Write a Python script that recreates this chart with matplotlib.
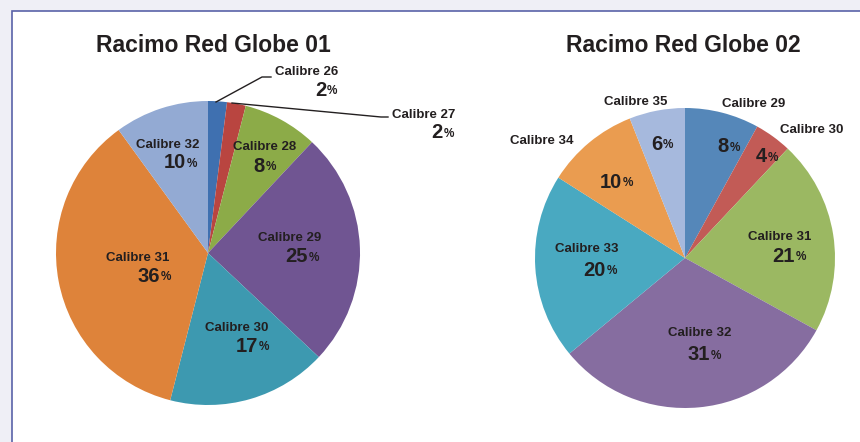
import matplotlib.pyplot as plt
from matplotlib.patches import Rectangle

plt.rcParams['font.family'] = ['Liberation Sans', 'DejaVu Sans']

# data
titles = ['Racimo Red Globe 01', 'Racimo Red Globe 02']

cal1 = ['Calibre 26', 'Calibre 27', 'Calibre 28', 'Calibre 29', 'Calibre 30', 'Calibre 31', 'Calibre 32']
pct1 = [2, 2, 8, 25, 17, 36, 10]
col1 = ['#3F70B0', '#B94540', '#8CAB48', '#705592', '#3D99B0', '#DE833A', '#93AAD3']

cal2 = ['Calibre 29', 'Calibre 30', 'Calibre 31', 'Calibre 32', 'Calibre 33', 'Calibre 34', 'Calibre 35']
pct2 = [8, 4, 21, 31, 20, 10, 6]
col2 = ['#5587B9', '#C25B56', '#9BB862', '#866DA0', '#49A9C1', '#EA9C50', '#A6B9DD']

W, H = 860, 442
TXT = '#231F20'

fig = plt.figure(figsize=(W / 100, H / 100), dpi=100)
fig.patch.set_facecolor('#EFEFF6')
ax = fig.add_axes([0, 0, 1, 1])


def Y(y):  # pixel row -> axes y
    return H - y


# white box with border
ax.add_patch(Rectangle((12, Y(H + 5)), W, H - 6, facecolor='white', edgecolor='#5A62A8', lw=1.2, zorder=0))


def draw_pie(vals, colors, cx, cy, r):
    ax.pie(vals, colors=colors, startangle=90, counterclock=False,
           center=(cx, Y(cy)), radius=r, wedgeprops=dict(linewidth=0))


def label(name, val, x, y, xp, yp, big=14.5):
    # name centered at (x, y); number right aligned at xp, % after it
    if name:
        ax.text(x, Y(y), name, ha='center', va='center', fontsize=9.5, fontweight='bold', color=TXT)
    ax.text(xp, Y(yp), str(val), ha='right', va='center', fontsize=big, fontweight='bold', color=TXT)
    ax.text(xp + 0.5, Y(yp + 1), '%', ha='left', va='center', fontsize=8.5, fontweight='bold', color=TXT)


draw_pie(pct1, col1, 208, 253, 152)
draw_pie(pct2, col2, 685, 258, 150)

ax.text(213, Y(46), titles[0], ha='center', va='center', fontsize=16.5, fontweight='bold', color=TXT)
ax.text(683, Y(46), titles[1], ha='center', va='center', fontsize=16.5, fontweight='bold', color=TXT)

# pie 1 labels
pos1 = [(307, 72, 326, 90), (424, 115, 443, 133), (265, 147, 265, 166), (290, 238, 308, 257),
        (237, 328, 258, 346), (138, 258, 160, 276), (168, 145, 186, 163)]
for n, v, p in zip(cal1, pct1, pos1):
    label(n, v, *p)

# leader lines for the small slices
ax.plot([216, 262, 271], [Y(102), Y(77), Y(77)], color=TXT, lw=1)
ax.plot([232, 381, 388], [Y(103), Y(117), Y(117)], color=TXT, lw=1)

# pie 2 labels
pos2 = [(754, 104, 729, 147), (812, 130, 767, 157), (780, 237, 795, 256), (700, 333, 710, 355),
        (587, 249, 606, 270), (542, 141, 622, 182), (636, 102, 662, 144)]
for n, v, p in zip(cal2, pct2, pos2):
    label(n, v, *p)

ax.set_xlim(0, W)
ax.set_ylim(0, H)
ax.axis('off')

fig.savefig('out.png', dpi=100, facecolor=fig.get_facecolor())
